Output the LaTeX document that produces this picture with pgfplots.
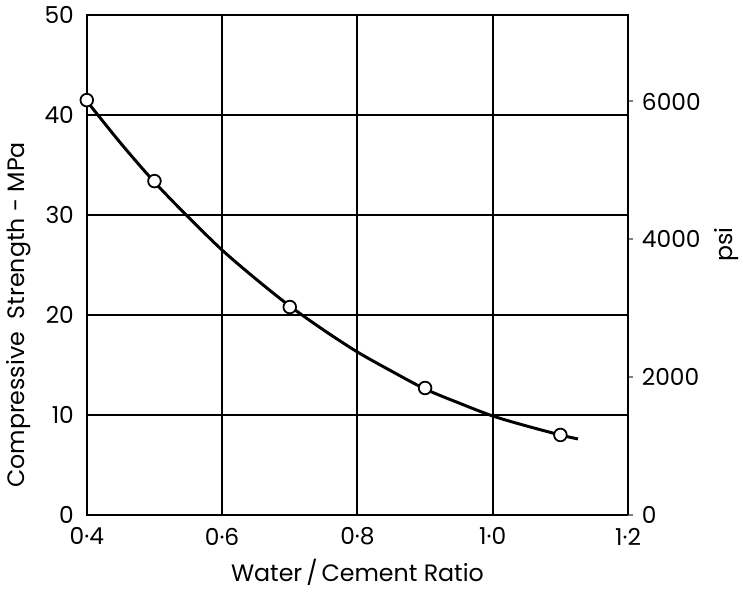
\documentclass[border=0pt]{standalone}
\usepackage{fontspec}
\setmainfont{Poppins}
\usepackage{pgfplots}
\pgfplotsset{compat=1.18}

\begin{document}
\begin{tikzpicture}
\pgfplotsset{
  every axis/.append style={
    scale only axis, width=274pt, height=253pt,
    xmin=0.4, xmax=1.2,
    /pgf/number format/assume math mode=true,
    /pgf/number format/1000 sep={},
    tick label style={font=\fontsize{11.8}{13}\selectfont},
    label style={font=\fontsize{12}{14}\selectfont},
  }
}
\begin{axis}[
  ymin=0, ymax=50,
  xtick={0.4,0.6,0.8,1.0,1.2},
  xticklabels={0·4,0·6,0·8,1·0,1·2},
  ytick={0,10,20,30,40,50},
  grid=major,
  major grid style={black, line width=1pt},
  axis line style={line width=1.2pt},
  major tick length=0pt,
  xticklabel style={yshift=-3pt},
  yticklabel style={xshift=-3pt},
  xlabel={Water\,/\,Cement Ratio},
  ylabel={Compressive\ \ Strength\ -\ MPa},
  ylabel style={at={(ticklabel cs:0.4)}},
]
% fitted curve
\addplot[black, line width=1.5pt, smooth] coordinates {
  (0.40,41.4) (0.45,37.2) (0.50,33.3) (0.55,29.8) (0.60,26.5) (0.65,23.6)
  (0.70,20.9) (0.75,18.5) (0.80,16.3) (0.85,14.4) (0.90,12.6) (0.95,11.2)
  (1.00,9.9) (1.05,8.9) (1.10,8.0) (1.126,7.6)
};
% test results
\addplot[only marks, mark=*, mark size=3.2pt,
  mark options={fill=white, draw=black, line width=0.9pt}] coordinates {
  (0.40,41.5) (0.50,33.4) (0.70,20.8) (0.90,12.7) (1.10,8.0)
};
\end{axis}
\begin{axis}[
  ymin=0, ymax=7251.9,
  axis y line*=right, axis x line=none,
  ytick={0,2000,4000,6000},
  tick align=outside, major tick length=2.5pt,
  ytick style={line width=1pt},
  axis line style={line width=1.2pt},
  yticklabel style={xshift=1pt},
  ylabel={psi},
  ylabel style={at={(ticklabel cs:0.557)}, xshift=-4pt},
]
\end{axis}
\end{tikzpicture}
\end{document}
